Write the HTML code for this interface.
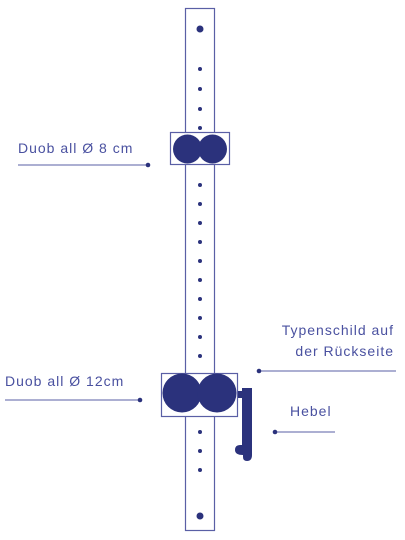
<!DOCTYPE html>
<html><head><meta charset="utf-8">
<style>
html,body{margin:0;padding:0;background:#fff;}
svg{display:block;}
text{font-family:"Liberation Sans",sans-serif;font-size:14px;fill:#4a51a0;letter-spacing:1px;}
</style></head>
<body>
<svg id="fig" width="405" height="540" viewBox="0 0 405 540" xmlns="http://www.w3.org/2000/svg">
<rect x="185.5" y="8.5" width="29" height="522" fill="#fff" stroke="#5a5fa5" stroke-width="1.2"/>
<circle cx="200" cy="29" r="3.5" fill="#2b327c"/>
<circle cx="200" cy="516" r="3.5" fill="#2b327c"/>
<g id="holes"></g>

<g>
<rect x="170.5" y="132.5" width="59" height="32" fill="#fff" stroke="#5a5fa5" stroke-width="1.2"/>
<circle cx="187.5" cy="149" r="14.5" fill="#2b327c"/>
<circle cx="212.5" cy="149" r="14.5" fill="#2b327c"/>
</g>
<g>
<rect x="161.5" y="373.5" width="76" height="43" fill="#fff" stroke="#5a5fa5" stroke-width="1.2"/>
<circle cx="182" cy="393" r="19.5" fill="#2b327c"/>
<circle cx="217" cy="393" r="19.5" fill="#2b327c"/>
</g>
<g fill="#2b327c">
<rect x="238" y="391" width="4" height="7"/>
<path d="M242 388 L252 388 L252 455 Q252 461 247 461 Q243 461 243 457 L243 455 Q235 455 235 450 Q235 445 240 445 L242 445 Z"/>
</g>

<g>
<text x="18" y="153">Duob all Ø 8 cm</text>
<line x1="18" y1="165" x2="148" y2="165" stroke="#5a5fa5" stroke-width="1"/>
<circle cx="148" cy="165" r="2.3" fill="#2b327c"/>
</g>
<g>
<text x="5" y="386">Duob all Ø 12cm</text>
<line x1="5" y1="400" x2="140" y2="400" stroke="#5a5fa5" stroke-width="1"/>
<circle cx="140" cy="400" r="2.3" fill="#2b327c"/>
</g>
<g>
<text x="394" y="335" text-anchor="end">Typenschild auf</text>
<text x="394" y="356" text-anchor="end">der Rückseite</text>
<line x1="259" y1="371" x2="396" y2="371" stroke="#5a5fa5" stroke-width="1"/>
<circle cx="259" cy="371" r="2.3" fill="#2b327c"/>
</g>
<g>
<text x="290" y="416">Hebel</text>
<line x1="275" y1="432" x2="335" y2="432" stroke="#5a5fa5" stroke-width="1"/>
<circle cx="275" cy="432" r="2.3" fill="#2b327c"/>
</g>
</svg>
<script>
const holesUpper = [69, 89, 109, 128];
const holesMiddle = [185, 204, 223, 242, 261, 280, 299, 318, 337, 356];
const holesLower = [432, 451, 470];
const g = document.getElementById('holes');
const ns = 'http://www.w3.org/2000/svg';
[...holesUpper, ...holesMiddle, ...holesLower].forEach(function (y) {
  const c = document.createElementNS(ns, 'circle');
  c.setAttribute('cx', 200);
  c.setAttribute('cy', y);
  c.setAttribute('r', 2);
  c.setAttribute('fill', '#2b327c');
  
  
  g.appendChild(c);
});
</script>
</body></html>
